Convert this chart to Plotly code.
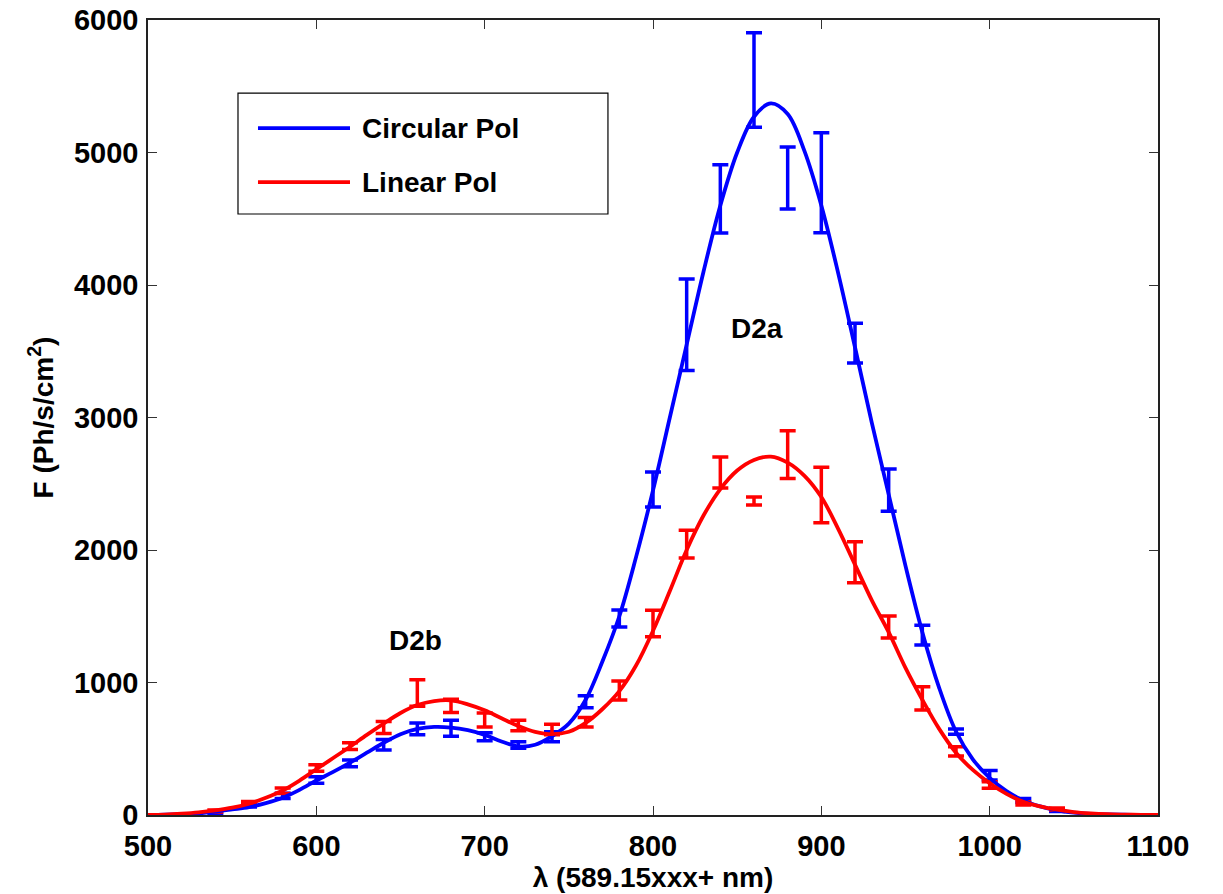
import plotly.graph_objects as go

# ---- fitted curves (10 nm sampling) ----
curve_x = list(range(500, 1101, 10))
circ_fit = [0, 2, 6, 12, 25, 42, 60, 90, 130, 190, 260, 325, 395, 470, 545, 610, 650, 665, 660, 640,
            605, 555, 518, 530, 595, 690, 870, 1160, 1500, 1950, 2450, 3000, 3550, 4100, 4600, 5000,
            5270, 5370, 5290, 5010, 4600, 4090, 3530, 2960, 2420, 1880, 1380, 960, 630, 420, 280,
            180, 110, 65, 35, 18, 8, 4, 2, 1, 0]
lin_fit = [0, 3, 10, 20, 35, 55, 85, 130, 185, 260, 345, 430, 515, 605, 690, 770, 830, 860, 865, 835,
           790, 730, 672, 628, 610, 628, 695, 800, 935, 1130, 1390, 1690, 2000, 2260, 2460, 2600,
           2680, 2705, 2660, 2560, 2400, 2160, 1890, 1620, 1380, 1110, 870, 650, 470, 340, 240,
           160, 100, 65, 40, 22, 12, 6, 3, 1, 0]

# ---- measured points with error bars ----
meas_x = list(range(540, 1041, 20))
circ_y = [15, 70, 145, 264, 390, 530, 650, 655, 590, 528, 590, 855, 1483, 2457, 3700, 4650, 5547,
          4808, 4772, 3562, 2452, 1358, 630, 300, 110, 35]
circ_err = [5, 10, 20, 25, 25, 40, 45, 60, 30, 25, 38, 45, 64, 132, 345, 257, 357, 234, 377, 150,
            160, 75, 20, 35, 15, 8]
lin_y = [30, 90, 183, 355, 520, 660, 920, 823, 717, 675, 645, 700, 940, 1445, 2045, 2585, 2370,
         2720, 2415, 1908, 1419, 880, 480, 226, 88, 45]
lin_err = [8, 12, 20, 25, 25, 45, 100, 50, 53, 40, 40, 35, 72, 100, 105, 117, 30, 180, 210, 155,
           83, 88, 35, 25, 12, 8]

series_names = ["Circular Pol", "Linear Pol"]
x_ticks = [500, 600, 700, 800, 900, 1000, 1100]
y_ticks = [0, 1000, 2000, 3000, 4000, 5000, 6000]

BLUE = "#0000ff"
RED = "#ff0000"
FONT = "Liberation Sans, Arial, Helvetica, sans-serif"

fig = go.Figure()

for y, e, c in [(circ_y, circ_err, BLUE), (lin_y, lin_err, RED)]:
    fig.add_trace(go.Scatter(
        x=meas_x, y=y, mode="markers",
        marker=dict(size=1, color="rgba(0,0,0,0)"),
        error_y=dict(type="data", array=e, visible=True, color=c, thickness=3.5, width=8),
        showlegend=False, hoverinfo="skip"))

for y, c, n in [(circ_fit, BLUE, series_names[0]), (lin_fit, RED, series_names[1])]:
    fig.add_trace(go.Scatter(
        x=curve_x, y=y, mode="lines", name=n,
        line=dict(color=c, width=3.8, shape="spline", smoothing=1.0),
        showlegend=False))

# manual legend (MATLAB style box)
fig.add_shape(type="rect", xref="paper", yref="paper", x0=0.0891, x1=0.4554, y0=0.756, y1=0.908,
              line=dict(color="black", width=1.2), fillcolor="white", layer="above")
for i, (n, c) in enumerate(zip(series_names, [BLUE, RED])):
    yy = 0.864 - i * 0.068
    fig.add_shape(type="line", xref="paper", yref="paper", x0=0.1089, x1=0.2, y0=yy, y1=yy,
                  line=dict(color=c, width=3.8), layer="above")
    fig.add_annotation(xref="paper", yref="paper", x=0.2099, y=yy, text=n, showarrow=False,
                       xanchor="left", yanchor="middle",
                       font=dict(family=FONT, size=28, color="black", weight="bold"))

# peak labels
for lx, ly, t in [(862, 3675, "D2a"), (659, 1320, "D2b")]:
    fig.add_annotation(x=lx, y=ly, text=t, showarrow=False,
                       font=dict(family=FONT, size=28, color="black", weight="bold"))

axis_common = dict(showgrid=False, zeroline=False, showline=True, linecolor="#222",
                   linewidth=1.5, mirror="ticks", ticks="inside", ticklen=9, tickwidth=1,
                   tickcolor="#333", automargin=False,
                   tickfont=dict(family=FONT, size=29, color="black", weight="bold"))

fig.update_layout(
    width=1223, height=894,
    margin=dict(l=148, r=65, t=20, b=79),
    plot_bgcolor="white", paper_bgcolor="white",
    xaxis=dict(range=[500, 1100], tickvals=x_ticks, ticklabelstandoff=4, **axis_common,
               title=dict(text="λ (589.15xxx+ nm)", standoff=2,
                          font=dict(family=FONT, size=28, color="black", weight="bold"))),
    yaxis=dict(range=[0, 6000], tickvals=y_ticks, ticklabelstandoff=2, **axis_common,
               title=dict(text="F (Ph/s/cm<sup>2</sup>)", standoff=12,
                          font=dict(family=FONT, size=28, color="black", weight="bold"))),
)

fig.write_html("out.html")
